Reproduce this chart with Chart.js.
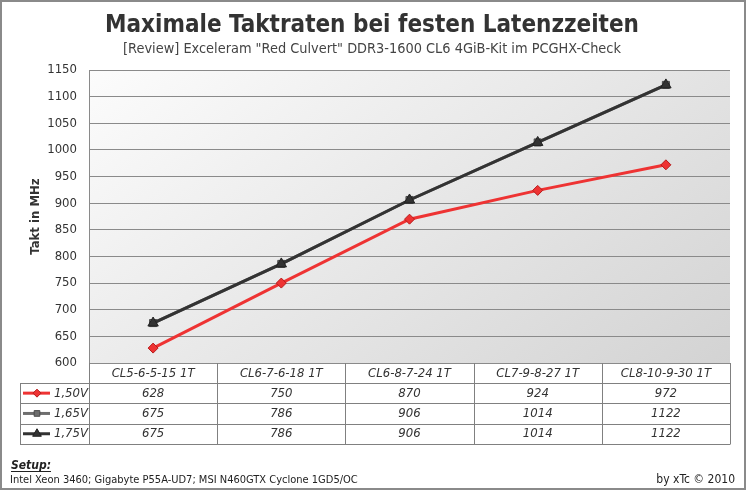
<!DOCTYPE html>
<html><head><meta charset="utf-8">
<script src="https://cdn.jsdelivr.net/npm/chart.js@4/dist/chart.umd.min.js"></script>
<style>html,body{margin:0;padding:0;background:#fff}canvas{display:block}</style>
</head><body>
<canvas id="c" width="746" height="490"></canvas>
<script>
const categories = ['CL5-6-5-15 1T','CL6-7-6-18 1T','CL6-8-7-24 1T','CL7-9-8-27 1T','CL8-10-9-30 1T'];
const seriesNames = ['1,50V','1,65V','1,75V'];
const v150 = [628,750,870,924,972];
const v165 = [675,786,906,1014,1122];
const v175 = [675,786,906,1014,1122];
const yMin = 600, yMax = 1150, yStep = 50;
const titleText = 'Maximale Taktraten bei festen Latenzzeiten';
const subtitleText = '[Review] Exceleram "Red Culvert" DDR3-1600 CL6 4GiB-Kit im PCGHX-Check';
const yTitle = 'Takt in MHz';
const setupLabel = 'Setup:';
const setupText = 'Intel Xeon 3460; Gigabyte P55A-UD7; MSI N460GTX Cyclone 1GD5/OC';
const credit = 'by xTc \u00A9 2010';

const FONT = '"DejaVu Sans Condensed", "DejaVu Sans", sans-serif';
const styles = [
  {color:'#ee3333', border:'#b81c1c', point:'rectRot', radius:5},
  {color:'#6e6e6e', border:'#4a4a4a', point:'rect', radius:5},
  {color:'#333333', border:'#222222', point:'triangle', radius:6}
];
const seriesValues = [v150, v165, v175];

const decor = {
  id:'decor',
  beforeDraw(chart){
    const {ctx, chartArea:a} = chart;
    ctx.save();
    ctx.fillStyle = '#fff';
    ctx.fillRect(0,0,chart.width,chart.height);
    const W = a.right-a.left, H = a.bottom-a.top;
    const ux = 0.5967, uy = 0.8025;
    const L = W*ux + H*uy;
    const g = ctx.createLinearGradient(a.left, a.top, a.left + L*ux, a.top + L*uy);
    g.addColorStop(0,'#fcfcfc');
    g.addColorStop(1,'#d3d3d3');
    ctx.fillStyle = g;
    ctx.fillRect(a.left, a.top, W, H);
    ctx.restore();
  },
  afterDraw(chart){
    const {ctx, chartArea:a} = chart;
    const xs = chart.scales.x;
    ctx.save();
    // titles
    ctx.textAlign = 'center';
    ctx.textBaseline = 'alphabetic';
    ctx.fillStyle = '#333';
    ctx.font = 'bold 24px ' + FONT;
    ctx.fillText(titleText, 372, 32);
    ctx.fillStyle = '#444';
    ctx.font = '14.4px ' + FONT;
    ctx.fillText(subtitleText, 372, 53);

    // table
    const n = categories.length;
    const colW = (a.right - a.left)/n;
    const rowTop = a.bottom + 20;
    const rowH = 20.3;
    const legL = 20;
    ctx.strokeStyle = '#808080';
    ctx.lineWidth = 1;
    ctx.beginPath();
    for (let r=0; r<=seriesNames.length; r++){
      const y = Math.round(rowTop + r*rowH) + 0.5;
      ctx.moveTo(legL, y); ctx.lineTo(a.right, y);
    }
    const tBottom = Math.round(rowTop + seriesNames.length*rowH) + 0.5;
    for (let c=0; c<=n; c++){
      const x = Math.round(a.left + c*colW) + 0.5;
      ctx.moveTo(x, a.bottom); ctx.lineTo(x, tBottom);
    }
    ctx.moveTo(legL+0.5, Math.round(rowTop)+0.5); ctx.lineTo(legL+0.5, tBottom);
    ctx.stroke();

    ctx.font = 'italic 13px ' + FONT;
    ctx.textBaseline = 'middle';
    seriesNames.forEach((name, r) => {
      const cy = rowTop + r*rowH + rowH/2;
      const st = styles[r];
      // legend key
      ctx.strokeStyle = st.color; ctx.lineWidth = 3;
      ctx.beginPath(); ctx.moveTo(23, cy); ctx.lineTo(50, cy); ctx.stroke();
      ctx.fillStyle = st.color; ctx.strokeStyle = st.border; ctx.lineWidth = 1;
      Chart.helpers.drawPoint(ctx, {pointStyle: st.point, radius: st.radius-1, rotation:0, borderWidth:1}, 37, cy);
      ctx.fillStyle = '#333';
      ctx.textAlign = 'right';
      ctx.fillText(name, 88, cy);
      ctx.textAlign = 'center';
      seriesValues[r].forEach((v, i) => {
        ctx.fillText(String(v), xs.getPixelForValue(i), cy);
      });
    });

    // footer
    ctx.textAlign = 'left';
    ctx.textBaseline = 'alphabetic';
    ctx.fillStyle = '#222';
    ctx.font = 'italic bold 12px ' + FONT;
    ctx.fillText(setupLabel, 11, 469);
    const w = ctx.measureText(setupLabel).width;
    ctx.strokeStyle = '#222'; ctx.lineWidth = 1;
    ctx.beginPath(); ctx.moveTo(11, 471.5); ctx.lineTo(11+w, 471.5); ctx.stroke();
    ctx.font = '11px ' + FONT;
    ctx.fillText(setupText, 10, 483);
    ctx.textAlign = 'right';
    ctx.font = '12px ' + FONT;
    ctx.fillText(credit, 735, 483);

    // outer border
    ctx.strokeStyle = '#8a8a8a'; ctx.lineWidth = 2;
    ctx.strokeRect(1, 1, chart.width-2, chart.height-2);
    ctx.restore();
  }
};

const ds = seriesNames.map((name, i) => ({
  label: name,
  data: seriesValues[i],
  borderColor: styles[i].color,
  backgroundColor: styles[i].color,
  pointBorderColor: styles[i].border,
  pointBackgroundColor: styles[i].color,
  pointStyle: styles[i].point,
  pointRadius: styles[i].radius,
  pointBorderWidth: 1,
  borderWidth: 3,
  tension: 0,
  order: [0,2,1][i]
}));

new Chart(document.getElementById('c'), {
  type: 'line',
  data: { labels: categories, datasets: ds },
  options: {
    responsive: false,
    animation: false,
    layout: { padding: { left: 20, right: 16, top: 70, bottom: 107 } },
    plugins: { legend: { display: false }, tooltip: { enabled: false }, title: {display:false} },
    scales: {
      x: {
        offset: true,
        grid: { display: false, drawTicks: false },
        border: { display: false },
        ticks: { color: '#333', font: { family: FONT, size: 13, style: 'italic' }, padding: 3, maxRotation: 0, autoSkip: false },
        afterFit(s){ s.height = 20; }
      },
      y: {
        min: yMin, max: yMax,
        grid: { color: '#8a8a8a', drawTicks: false },
        border: { display: true, color: '#8a8a8a' },
        ticks: { stepSize: yStep, color: '#333', font: { family: FONT, size: 13 }, padding: 12,
                 callback: (v) => String(v) },
        title: { display: true, text: yTitle, color: '#333', font: { family: FONT, size: 13, weight: 'bold' }, padding: { top: 8, bottom: 0 } },
        afterFit(s){ s.width = 69; }
      }
    }
  },
  plugins: [decor]
});
</script>
</body></html>
